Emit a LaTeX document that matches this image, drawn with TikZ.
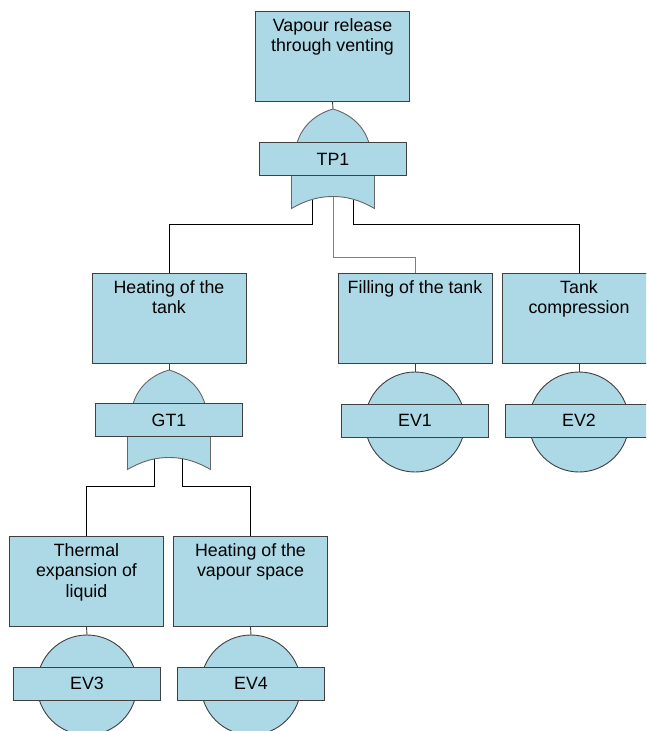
\documentclass[tikz,border=0pt]{standalone}
\usepackage{fontspec}
\setmainfont{Liberation Sans}
\definecolor{boxfill}{HTML}{ADD8E6}
\definecolor{boxline}{HTML}{404040}
\definecolor{gateline}{HTML}{666666}
\definecolor{midline}{HTML}{808080}

% text of an event box, set from the top of the box
\newcommand\boxlines[1]{\parbox[c][90pt][t]{150pt}{\centering\rule{0pt}{20pt}#1\par}}

\tikzset{
  txt/.style={font=\fontsize{17.8}{20.5}\selectfont},
  eventbox/.style={txt, draw=boxline, fill=boxfill, line width=0.9pt,
    minimum width=154pt, minimum height=90pt, inner sep=0pt},
  tag/.style={txt, draw=boxline, fill=boxfill, line width=0.9pt,
    minimum width=147pt, minimum height=33pt, inner sep=0pt},
  wire/.style={line width=0.9pt, black},
  midwire/.style={line width=0.9pt, midline},
  stub/.style={line width=0.9pt, boxline},
  % OR gate: pointed dome, label bar and notched skirt
  orgate/.pic={
    \coordinate (-in) at (0,-50);
    \path[draw=gateline, fill=boxfill, line width=0.9pt]
      (-36,-16) .. controls (-30,-36) and (-14,-46) .. (0,-50)
      .. controls (14,-46) and (30,-36) .. (36,-16) -- cycle;
    \path[draw=gateline, fill=boxfill, line width=0.9pt]
      (-41.5,16) -- (-41.5,49.5)
      .. controls (-25,40) and (-12,37.5) .. (0,37.5)
      .. controls (12,37.5) and (25,40) .. (41.5,49.5)
      -- (41.5,16) -- cycle;
    \node[tag] (-lbl) at (0,0) {#1};
  },
  % basic event: circle behind a label bar
  basic/.pic={
    \coordinate (-in) at (0,-48.5);
    \path[draw=boxline, fill=boxfill, line width=0.9pt] (0,1.5) circle[radius=50];
    \node[tag] (-lbl) at (0,0) {#1};
  }
}

\begin{document}
\begin{tikzpicture}[x=1pt,y=-1pt]
\useasboundingbox (0,0) rectangle (646,731);
\clip (0,0) rectangle (646,731);

% event boxes
\node[eventbox] (top)   at (332.5,56) {\boxlines{Vapour release\\through venting}};
\node[eventbox] (heat)  at (169,318)  {\boxlines{Heating of the\\tank}};
\node[eventbox] (fill)  at (415,318)  {\boxlines{Filling of the tank}};
\node[eventbox] (comp)  at (579,318)  {\boxlines{Tank\\compression}};
\node[eventbox] (therm) at (86.5,581) {\boxlines{Thermal\\expansion of\\liquid}};
\node[eventbox] (vap)   at (250.5,581){\boxlines{Heating of the\\vapour space}};

% gate outputs
\coordinate (tp1-ol) at (312,195);
\coordinate (tp1-or) at (353,195);
\coordinate (tp1-oc) at (333,190);
\coordinate (gt1-ol) at (154,455);
\coordinate (gt1-or) at (182,455);

% connectors
\draw[wire] (tp1-ol) -- ++(0,29) -| (heat.north);
\draw[wire] (tp1-or) -- ++(0,29) -| (comp.north);
\draw[midwire] (tp1-oc) -- ++(0,67) -| (fill.north);
\draw[wire] (gt1-ol) -- ++(0,31) -| (therm.north);
\draw[wire] (gt1-or) -- ++(0,31) -| (vap.north);

% gates and basic events
\pic (tp1) at (333,159) {orgate=TP1};
\pic (gt1) at (169,420) {orgate=GT1};
\pic (ev1) at (415,420.5) {basic=EV1};
\pic (ev2) at (579,420.5) {basic=EV2};
\pic (ev3) at (87,683.5) {basic=EV3};
\pic (ev4) at (251,683.5) {basic=EV4};

% short links from boxes into gates and events
\draw[stub] (top.south) -- (tp1-in);
\draw[stub] (heat.south) -- (gt1-in);
\draw[stub] (fill.south) -- (ev1-in);
\draw[stub] (comp.south) -- (ev2-in);
\draw[stub] (therm.south) -- (ev3-in);
\draw[stub] (vap.south) -- (ev4-in);
\end{tikzpicture}
\end{document}
